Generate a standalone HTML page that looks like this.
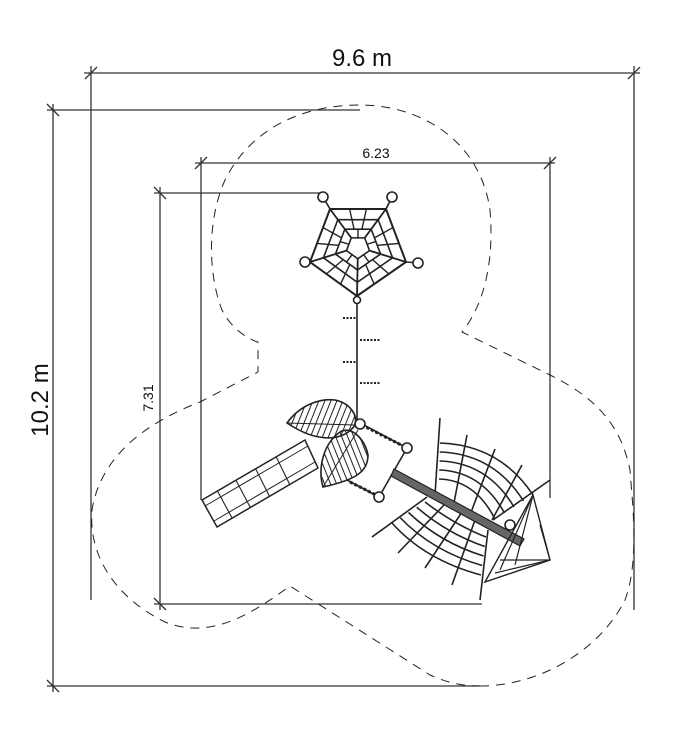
<!DOCTYPE html>
<html><head><meta charset="utf-8"><style>html,body{margin:0;padding:0;background:#fff}svg{display:block}</style></head>
<body>
<svg id="s" width="699" height="750" viewBox="0 0 699 750" xmlns="http://www.w3.org/2000/svg" font-family="Liberation Sans, Arial, sans-serif">
<g stroke="#333" stroke-width="1.3" fill="none">
<line x1="84" y1="73" x2="640" y2="73"/>
<line x1="91" y1="66" x2="91" y2="600"/>
<line x1="634" y1="66" x2="634" y2="610"/>
<line x1="85" y1="79" x2="97" y2="67"/><line x1="628" y1="79" x2="640" y2="67"/>
<line x1="47" y1="110" x2="360" y2="110"/>
<line x1="53" y1="104" x2="53" y2="692"/>
<line x1="47" y1="686" x2="480" y2="686"/>
<line x1="47" y1="104" x2="59" y2="116"/><line x1="47" y1="680" x2="59" y2="692"/>
<line x1="195" y1="163" x2="555" y2="163"/>
<line x1="201" y1="157" x2="201" y2="500"/>
<line x1="550" y1="157" x2="550" y2="498"/>
<line x1="195" y1="169" x2="207" y2="157"/><line x1="544" y1="169" x2="556" y2="157"/>
<line x1="154" y1="193" x2="323" y2="193"/>
<line x1="160" y1="187" x2="160" y2="610"/>
<line x1="154" y1="604" x2="482" y2="604"/>
<line x1="154" y1="187" x2="166" y2="199"/><line x1="154" y1="598" x2="166" y2="610"/>
</g>
<path d="M480,686 C540,686 600,650 625,600 C640,560 632,500 630,470 C620,420 590,395 550,375 L462,332 C480,310 495,270 490,210 C480,140 420,105 360,105 C300,105 250,130 225,180 C205,225 210,280 222,310 C232,330 250,340 258,342 L258,372 L200,402 C140,425 100,460 92,510 C88,560 120,600 165,622 C210,640 250,615 290,586 L430,675 C450,684 465,686 480,686 Z" fill="none" stroke="#222" stroke-width="1" stroke-dasharray="9,7"/>
<g fill="#111">
<text x="362" y="66" font-size="24" text-anchor="middle">9.6 m</text>
<text x="376" y="158" font-size="14" text-anchor="middle">6.23</text>
<text transform="translate(48,400) rotate(-90)" font-size="24" text-anchor="middle">10.2 m</text>
<text transform="translate(153,398) rotate(-90)" font-size="14" text-anchor="middle">7.31</text>
</g>
<g id="draw" stroke="#222" stroke-width="1.6" fill="none"></g>
</svg>
<script>
var g=document.getElementById('draw'),NS='http://www.w3.org/2000/svg';
function el(t,a){var e=document.createElementNS(NS,t);for(var k in a)e.setAttribute(k,a[k]);g.appendChild(e);return e;}
function L(a,b,c,d,w,da){var e=el('line',{x1:a,y1:b,x2:c,y2:d,'stroke-width':w||1.6});if(da)e.setAttribute('stroke-dasharray',da);}
function C(x,y,r){el('circle',{cx:x,cy:y,r:r||5,fill:'#fff','stroke-width':1.6});}
var cx=358,cy=247,V=[[330,209],[386,209],[406,262],[357,296],[310,262]];
function pt(p,s){return [cx+(p[0]-cx)*s,cy+(p[1]-cy)*s];}
[1,0.72,0.47,0.24].forEach(function(s){var d='';V.forEach(function(p,i){var q=pt(p,s);d+=(i?'L':'M')+q[0]+','+q[1];});el('path',{d:d+'Z','stroke-width':s==1?2:1.6});});
V.forEach(function(p,i){var q=pt(p,0.24);L(q[0],q[1],p[0],p[1],1.8);var n=V[(i+1)%5];
 [0.35,0.65].forEach(function(t){var a=[p[0]+(n[0]-p[0])*t,p[1]+(n[1]-p[1])*t];var b=pt(a,0.47);L(a[0],a[1],b[0],b[1],1.4);});
 [0.5].forEach(function(t){var a=[p[0]+(n[0]-p[0])*t,p[1]+(n[1]-p[1])*t];var b=pt(a,0.47),c=pt(a,0.24);L(b[0],b[1],c[0],c[1],1.4);});});
L(323,197,330,209);L(392,197,386,209);L(418,263,406,262);L(305,262,310,262);
L(357,297,357,425);
C(323,197);C(392,197);C(418,263);C(305,262);C(357,300,3.5);
[[318,343,357],[340,360,381],[362,343,357],[383,360,381]].forEach(function(r){L(r[1],r[0],r[2],r[0],2,'2,1.5');});
// slide
el('path',{d:'M202,500 L305,440 L318,468 L217,527 Z','stroke-width':1.5});
L(205,506,308,446,1);L(214,521,315,462,1);
[0.15,0.33,0.52,0.72].forEach(function(t){L(202+103*t,500-60*t,217+101*t,527-59*t,1.1);});
// leaves
function leaf(d,hx){var id='c'+Math.random().toString(36).slice(2);var cp=document.createElementNS(NS,'clipPath');cp.id=id;var p=document.createElementNS(NS,'path');p.setAttribute('d',d);cp.appendChild(p);g.appendChild(cp);
 var gg=el('g',{'clip-path':'url(#'+id+')','stroke-width':1});for(var i=-80;i<80;i+=6){var l=document.createElementNS(NS,'line');l.setAttribute('x1',hx[0]+i);l.setAttribute('y1',hx[1]-50);l.setAttribute('x2',hx[0]+i+hx[2]);l.setAttribute('y2',hx[1]+50);gg.appendChild(l);}
 el('path',{d:d});}
leaf('M287,423 C300,405 320,398 335,400 C350,403 358,415 355,425 C345,440 320,445 287,423 Z',[320,423,-40]);
leaf('M323,487 C318,470 322,445 340,432 C352,425 365,440 368,455 C368,472 355,480 323,487 Z',[345,460,40]);
L(287,423,355,425,1);L(323,487,358,430,1);
// platform
el('path',{d:'M360,423 L407,448 L379,497 L347,480','stroke-width':1.6});
L(362,425,405,447,3,'3,2');L(350,482,378,496,3,'3,2');
C(360,424,5);C(407,448,5);C(379,497,5);
// upper net
for(var i=0;i<5;i++){var t=i/4;var sx=440-1*t,sy=443+36*t,ex=533-38*t,ey=495+24*t,qx=500-25*t,qy=445+35*t;
 el('path',{d:'M'+sx+','+sy+' Q'+qx+','+qy+' '+ex+','+ey,'stroke-width':1.6});}
L(440,418,435,495);L(467,435,453,508);L(495,449,470,515);L(522,465,492,520);L(550,480,493,520);
// lower net
for(var i=0;i<5;i++){var t=i/4;var sx=425-33*t,sy=502+21*t,ex=486-5*t,ey=537+38*t,qx=455-30*t,qy=525+35*t;
 el('path',{d:'M'+sx+','+sy+' Q'+qx+','+qy+' '+ex+','+ey,'stroke-width':1.6});}
L(372,537,427,497);L(398,553,444,505);L(425,568,462,512);L(452,585,475,520);L(480,600,488,530);
// beam
el('path',{d:'M394,469 L524,539 L520,546 L391,476 Z',fill:'#666','stroke-width':1.2});
// right frame
el('path',{d:'M533,495 L550,560 L485,582 Z','stroke-width':1.4});
L(533,495,500,570,1.2);L(533,495,515,565,1.2);L(550,560,500,560,1.2);L(550,560,495,573,1.2);L(540,525,550,560,1.2);
C(510,525,5);
</script>
</body></html>
